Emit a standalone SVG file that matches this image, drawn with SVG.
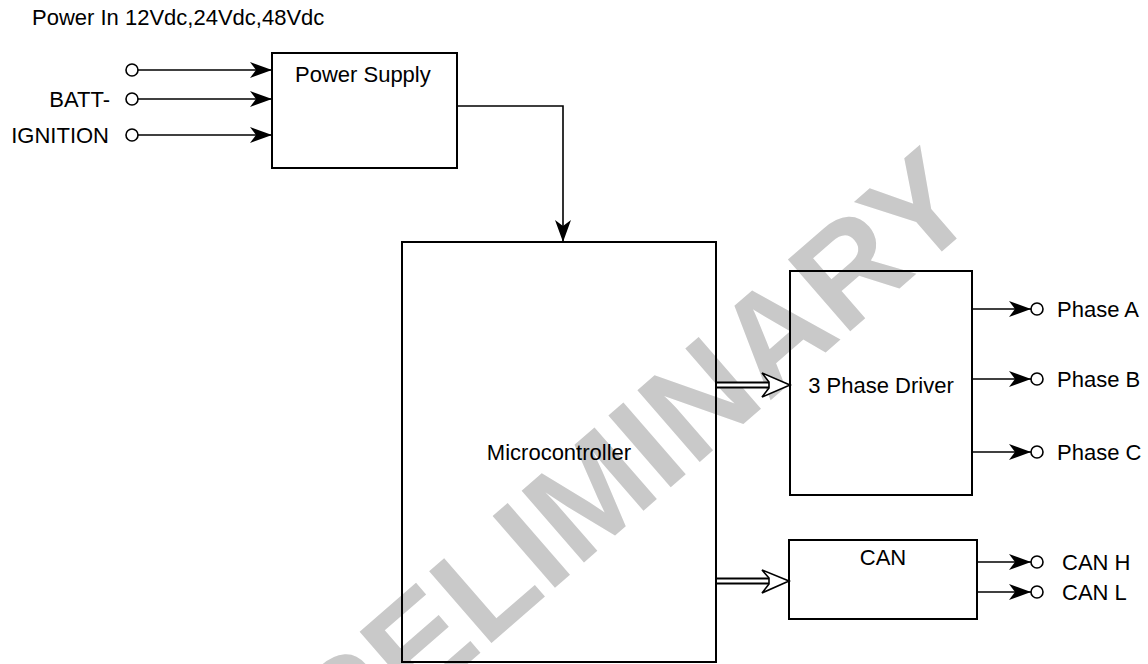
<svg xmlns="http://www.w3.org/2000/svg" width="1148" height="664" viewBox="0 0 1148 664">
<style>
text{font-family:"Liberation Sans",Arial,sans-serif;font-size:22px;fill:#000}
.box{fill:none;stroke:#000;stroke-width:2}
.ln{fill:none;stroke:#000;stroke-width:1.6}
.term{fill:#fff;stroke:#000;stroke-width:1.6}
.wm{font-size:138px;font-weight:bold;fill:#c9c9c9}
.bus{fill:none;stroke:#000;stroke-width:7}
.busin{fill:none;stroke:#fff;stroke-width:3}
.head{fill:#fff;stroke:#000;stroke-width:1.6;stroke-linejoin:miter}
</style>
<defs>
<marker id="arr" markerUnits="userSpaceOnUse" markerWidth="30" markerHeight="20" viewBox="-24 -10 26 20" refX="0" refY="0" orient="auto">
<path d="M0,0 L-22,-8 L-16,0 L-22,8 z" fill="#000"/>
</marker>
</defs>
<rect width="1148" height="664" fill="#fff"/>
<g id="watermark">
<text class="wm" x="595" y="537" text-anchor="middle" transform="rotate(-41 595 488)">PRELIMINARY</text>
</g>
<g id="title"><text x="32" y="25">Power In 12Vdc,24Vdc,48Vdc</text></g>
<g id="power-supply">
<rect class="box" x="272" y="53" width="185" height="115"/>
<text x="295" y="82">Power Supply</text>
</g>
<g id="microcontroller">
<rect class="box" x="402" y="242" width="314" height="420"/>
<text x="559" y="460" text-anchor="middle">Microcontroller</text>
</g>
<g id="driver">
<rect class="box" x="790" y="271" width="182" height="224"/>
<text x="881" y="393" text-anchor="middle">3 Phase Driver</text>
</g>
<g id="can">
<rect class="box" x="789" y="540" width="188" height="79"/>
<text x="883" y="565" text-anchor="middle">CAN</text>
</g>
<g id="inputs">
<circle class="term" cx="132" cy="70" r="6"/>
<text x="110" y="107" text-anchor="end">BATT-</text>
<circle class="term" cx="132" cy="99" r="6"/>
<text x="109" y="143" text-anchor="end">IGNITION</text>
<circle class="term" cx="132" cy="135" r="6"/>
</g>
<g id="outputs">
<circle class="term" cx="1037" cy="309" r="6"/>
<text x="1057" y="317">Phase A</text>
<circle class="term" cx="1037" cy="379" r="6"/>
<text x="1057" y="387">Phase B</text>
<circle class="term" cx="1037" cy="452" r="6"/>
<text x="1057" y="460">Phase C</text>
<circle class="term" cx="1037" cy="562" r="6"/>
<text x="1062" y="570">CAN H</text>
<circle class="term" cx="1037" cy="592" r="6"/>
<text x="1062" y="600">CAN L</text>
</g>
<g id="connectors">
<path class="ln" d="M138,70 H272" marker-end="url(#arr)"/>
<path class="ln" d="M138,99 H272" marker-end="url(#arr)"/>
<path class="ln" d="M138,135 H272" marker-end="url(#arr)"/>
<path class="ln" d="M457,106 H563 V242" marker-end="url(#arr)"/>
<path class="ln" d="M972,309 H1031" marker-end="url(#arr)"/>
<path class="ln" d="M972,379 H1031" marker-end="url(#arr)"/>
<path class="ln" d="M972,452 H1031" marker-end="url(#arr)"/>
<path class="ln" d="M977,562 H1031" marker-end="url(#arr)"/>
<path class="ln" d="M977,592 H1031" marker-end="url(#arr)"/>
<path class="bus" d="M717,385 H769"/>
<path class="busin" d="M717,385 H771"/>
<path class="head" d="M790,385 L762,373 L769,382 L769,388 L762,397 Z"/>
<path class="bus" d="M717,581 H769"/>
<path class="busin" d="M717,581 H771"/>
<path class="head" d="M789,581 L762,570 L769,578 L769,584 L762,593 Z"/>
</g>
</svg>
